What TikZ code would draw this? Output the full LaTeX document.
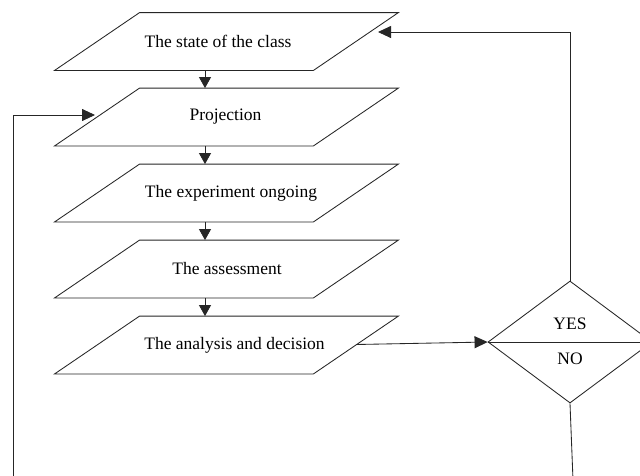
\documentclass[tikz,border=0pt]{standalone}
\usepackage{fontspec}
\setmainfont{Liberation Serif}
\usetikzlibrary{shapes.geometric,arrows.meta,calc}
\begin{document}
\begin{tikzpicture}[x=1pt,y=-1pt, line width=0.85pt, draw=black!85,
  box/.style={minimum width=258pt,minimum height=57pt,inner sep=0pt},
  lbl/.style={inner sep=0pt,font=\fontsize{17.5}{20}\selectfont},
  arr/.style={-{Triangle[length=13pt,width=12pt]}},
  sarr/.style={-{Triangle[length=11pt,width=12pt]}}]
\useasboundingbox (0,0) rectangle (640,475);
\clip (0,0) rectangle (640,475);
\fill[white] (0,0) rectangle (640,475);
\node[box,label={[lbl,xshift=-8.5pt]center:The state of the class}] (b1) at (226.5,41.5) {};
\node[box,label={[lbl,xshift=-1pt]center:Projection}] (b2) at (226.5,117) {};
\node[box,label={[lbl,xshift=4.5pt]center:The experiment ongoing}] (b3) at (226.5,193) {};
\node[box,label={[lbl,xshift=0.5pt]center:The assessment}] (b4) at (226.5,269) {};
\node[box,label={[lbl,xshift=8pt]center:The analysis and decision}] (b5) at (226.5,345) {};
\foreach \n in {b1,b2,b3,b4,b5}
  \draw ([xshift=42.5pt]\n.north west) -- ([xshift=42.5pt]\n.north east)
     -- ([xshift=-42.5pt]\n.south east) -- ([xshift=-42.5pt]\n.south west) -- cycle;
\node[diamond,draw,minimum width=164pt,minimum height=122pt,inner sep=0pt] (d) at (570,342) {};
\draw (d.west) -- (d.east);
\node[lbl] (yes) at (570,323.5) {YES};
\node[lbl] (no) at (570,359) {NO};
\coordinate (ax) at (205,0);
\draw[sarr] (b1.south -| ax) -- (b2.north -| ax);
\draw[sarr] (b2.south -| ax) -- (b3.north -| ax);
\draw[sarr] (b3.south -| ax) -- (b4.north -| ax);
\draw[sarr] (b4.south -| ax) -- (b5.north -| ax);
\coordinate (l0) at (13.5,480);
\coordinate (l1) at (95,115);
\draw[arr] (l0) |- (l1);
\coordinate (t1) at (378,32);
\draw[arr] (d.north) |- (t1);
\coordinate (a0) at (356,344.5);
\draw[arr] (a0) -- (d.west);
\coordinate (bt) at (573,480);
\draw (d.south) -- (bt);
\end{tikzpicture}
\end{document}
